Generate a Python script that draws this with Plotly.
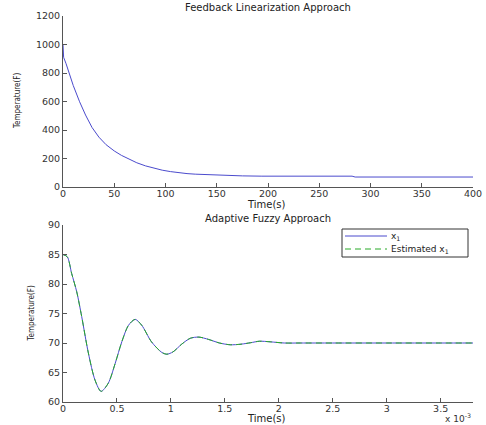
import plotly.graph_objects as go

# ---- Data: Feedback Linearization Approach ----
t_fb = [0, 0.6, 3, 6.5, 10, 16.2, 22, 28.3, 35, 42, 50, 57, 64, 72, 80.6, 88,
        96.8, 105, 113, 121, 129, 140, 158.6, 175, 194, 230, 260, 282, 285,
        320, 360, 400]
temp_fb = [1000, 910, 865, 790, 712, 598, 505, 418, 350, 297, 253, 222, 197,
           170, 148, 132, 118, 108, 100, 94, 90, 86, 81, 78, 76, 76, 76, 76,
           70, 70, 70, 70]

# ---- Data: Adaptive Fuzzy Approach (time in units of 1e-3 s) ----
t_af = [0, 0.04, 0.08, 0.127, 0.173, 0.235, 0.297, 0.353, 0.42, 0.483, 0.545,
        0.607, 0.669, 0.73, 0.82, 0.916, 0.963, 1.02, 1.1, 1.18, 1.26, 1.35,
        1.45, 1.55, 1.65, 1.74, 1.82, 1.92, 2.05, 2.2, 2.5, 3.0, 3.5, 3.8]
x1 = [85, 84.6, 81.8, 78.7, 74.5, 68.3, 63.7, 61.8, 63.2, 66.5, 70.2, 73.0,
      74.0, 73.0, 70.2, 68.4, 68.1, 68.5, 69.8, 70.8, 71.0, 70.6, 70.0, 69.7,
      69.8, 70.05, 70.3, 70.2, 70.0, 70.0, 70.0, 70.0, 70.0, 70.0]
x1_est = [85, 84.6, 81.8, 78.7, 74.5, 68.3, 63.7, 61.8, 63.2, 66.5, 70.2, 73.0,
          74.0, 73.0, 70.2, 68.4, 68.1, 68.5, 69.8, 70.8, 71.0, 70.6, 70.0, 69.7,
          69.8, 70.05, 70.3, 70.2, 70.0, 70.0, 70.0, 70.0, 70.0, 70.0]
legend_labels = ["x<sub>1</sub>", "Estimated x<sub>1</sub>"]

top_xticks = [0, 50, 100, 150, 200, 250, 300, 350, 400]
top_yticks = [0, 200, 400, 600, 800, 1000, 1200]
bot_xticks = [0, 0.5, 1, 1.5, 2, 2.5, 3, 3.5]
bot_yticks = [60, 65, 70, 75, 80, 85, 90]

W, H = 486, 425
BLUE = "rgb(75,75,205)"
GREEN = "rgb(40,170,40)"
AX = "#555"
TICKFONT = dict(family="DejaVu Sans", size=9.5, color="#333")

fig = go.Figure()
fig.add_trace(go.Scatter(x=t_fb, y=temp_fb, mode="lines", xaxis="x", yaxis="y",
                         line=dict(color=BLUE, width=1), showlegend=False))
fig.add_trace(go.Scatter(x=t_af, y=x1, mode="lines", xaxis="x2", yaxis="y2",
                         name=legend_labels[0], showlegend=False,
                         line=dict(color=BLUE, width=1, shape="spline", smoothing=0.8)))
fig.add_trace(go.Scatter(x=t_af, y=x1_est, mode="lines", xaxis="x2", yaxis="y2",
                         name=legend_labels[1], showlegend=False,
                         line=dict(color=GREEN, width=1, dash="6px,4px",
                                   shape="spline", smoothing=0.8)))

def px_x(p):
    return p / W

def px_y(p):
    return 1 - p / H

axis_common = dict(showline=True, linecolor=AX, linewidth=1, ticks="inside",
                   ticklen=4, tickcolor=AX, showgrid=False, zeroline=False,
                   tickfont=TICKFONT, mirror=False, automargin=False)

fig.update_layout(
    width=W, height=H,
    margin=dict(l=0, r=0, t=0, b=0, pad=0, autoexpand=False),
    paper_bgcolor="white", plot_bgcolor="white",
    xaxis=dict(domain=[px_x(63), px_x(473)], range=[0, 400], tickvals=top_xticks,
               anchor="y", ticklabelstandoff=-2, **axis_common),
    yaxis=dict(domain=[px_y(187), px_y(16)], range=[0, 1200], tickvals=top_yticks,
               anchor="x", **axis_common),
    xaxis2=dict(domain=[px_x(63), px_x(473)], range=[0, 3.8], tickvals=bot_xticks,
                anchor="y2", ticklabelstandoff=-2, **axis_common),
    yaxis2=dict(domain=[px_y(402), px_y(225)], range=[60, 90], tickvals=bot_yticks,
                anchor="x2", **axis_common),
    showlegend=False,
)

# legend box (drawn as shapes + text, matching the compact MATLAB legend)
fig.add_shape(type="rect", xref="paper", yref="paper",
              x0=px_x(342), x1=px_x(468), y0=px_y(257), y1=px_y(229),
              line=dict(color="#333", width=1), fillcolor="white", layer="above")
fig.add_shape(type="line", xref="paper", yref="paper",
              x0=px_x(345), x1=px_x(387), y0=px_y(236), y1=px_y(236),
              line=dict(color=BLUE, width=1), layer="above")
fig.add_shape(type="line", xref="paper", yref="paper",
              x0=px_x(345), x1=px_x(387), y0=px_y(249), y1=px_y(249),
              line=dict(color=GREEN, width=1, dash="6px,4px"), layer="above")
LEGFONT = dict(family="DejaVu Sans", size=9, color="#222")
fig.add_annotation(text=legend_labels[0], x=px_x(389), y=px_y(236), xref="paper",
                   yref="paper", showarrow=False, xanchor="left", yanchor="middle",
                   font=LEGFONT)
fig.add_annotation(text=legend_labels[1], x=px_x(389), y=px_y(249), xref="paper",
                   yref="paper", showarrow=False, xanchor="left", yanchor="middle",
                   font=LEGFONT)

TITLEFONT = dict(family="DejaVu Sans", size=10, color="#222")
LABELFONT = dict(family="Liberation Sans Narrow, DejaVu Sans Condensed", size=8, color="#222")
ann = [
    dict(text="Feedback Linearization Approach", x=px_x(268), y=px_y(8), font=TITLEFONT),
    dict(text="Time(s)", x=px_x(266), y=px_y(204.5), font=TITLEFONT),
    dict(text="Adaptive Fuzzy Approach", x=px_x(268), y=px_y(218), font=TITLEFONT),
    dict(text="Time(s)", x=px_x(266), y=px_y(418.5), font=TITLEFONT),
    dict(text="x 10<sup>-3</sup>", x=px_x(458), y=px_y(418), font=dict(family="DejaVu Sans", size=9, color="#333")),
    dict(text="Temperature(F)", x=px_x(17.5), y=px_y(101.5), textangle=-90, font=LABELFONT),
    dict(text="Temperature(F)", x=px_x(31), y=px_y(313.5), textangle=-90, font=LABELFONT),
]
for a in ann:
    fig.add_annotation(xref="paper", yref="paper", showarrow=False,
                       xanchor="center", yanchor="middle", **a)

fig.write_html("out.html", config={"displayModeBar": False},
               post_script="document.body.style.margin='0';")
